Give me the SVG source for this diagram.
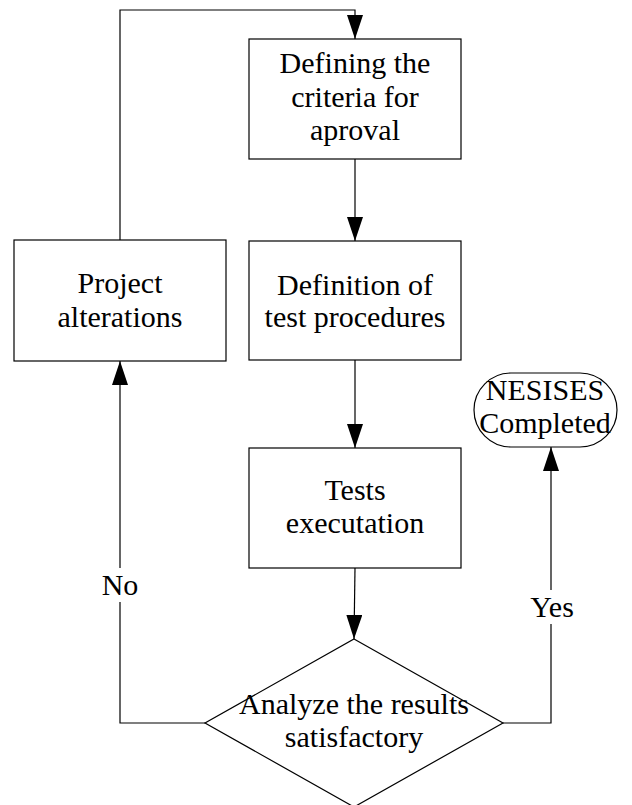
<svg xmlns="http://www.w3.org/2000/svg" width="632" height="805" viewBox="0 0 632 805">
  <style>
    .box { fill: #ffffff; stroke: #000000; stroke-width: 1.2; }
    .edge { fill: none; stroke: #000000; stroke-width: 1.2; }
    .label { font-family: "Liberation Serif", "Times New Roman", serif; font-size: 30px; fill: #000000; text-anchor: middle; }
  </style>
  <defs>
    <marker id="arrow" viewBox="0 0 24 16" refX="24" refY="8" markerWidth="24" markerHeight="16" markerUnits="userSpaceOnUse" orient="auto">
      <path d="M0,0 L24,8 L0,16 Z" fill="#000000"/>
    </marker>
  </defs>
  <rect width="632" height="805" fill="#ffffff"/>

  <g id="connectors">
    <!-- loop back from project alterations to the criteria box -->
    <polyline class="edge" points="120,240 120,10 355,10 355,39" marker-end="url(#arrow)"/>
    <line class="edge" x1="355" y1="159" x2="355" y2="241" marker-end="url(#arrow)"/>
    <line class="edge" x1="355" y1="360" x2="355" y2="448" marker-end="url(#arrow)"/>
    <line class="edge" x1="355" y1="568" x2="354" y2="639" marker-end="url(#arrow)"/>
    <!-- No branch -->
    <polyline class="edge" points="205,723 120,723 120,361" marker-end="url(#arrow)"/>
    <!-- Yes branch -->
    <polyline class="edge" points="503,723 551,723 551,447" marker-end="url(#arrow)"/>
    <rect x="100" y="568" width="40" height="34" fill="#ffffff"/>
    <text class="label" x="120" y="595">No</text>
    <rect x="525" y="590" width="52" height="34" fill="#ffffff"/>
    <text class="label" x="552" y="617">Yes</text>
  </g>

  <g id="criteria">
    <rect class="box" x="249" y="39" width="212" height="120"/>
    <text class="label" x="355" y="73">Defining the</text>
    <text class="label" x="355" y="107">criteria for</text>
    <text class="label" x="355" y="140">aproval</text>
  </g>

  <g id="procedures">
    <rect class="box" x="249" y="241" width="212" height="119"/>
    <text class="label" x="355" y="295">Definition of</text>
    <text class="label" x="355" y="327">test procedures</text>
  </g>

  <g id="execution">
    <rect class="box" x="249" y="448" width="212" height="120"/>
    <text class="label" x="355" y="500">Tests</text>
    <text class="label" x="355" y="533">executation</text>
  </g>

  <g id="alterations">
    <rect class="box" x="14" y="240" width="212" height="121"/>
    <text class="label" x="120" y="293">Project</text>
    <text class="label" x="120" y="327">alterations</text>
  </g>

  <g id="decision">
    <polygon class="box" points="354,639 503,723 354,807 205,723"/>
    <text class="label" x="354" y="714">Analyze the results</text>
    <text class="label" x="354" y="747">satisfactory</text>
  </g>

  <g id="completed">
    <rect class="box" x="474" y="373" width="143" height="74" rx="37" ry="37"/>
    <text class="label" x="545" y="400">NESISES</text>
    <text class="label" x="545" y="433">Completed</text>
  </g>
</svg>
